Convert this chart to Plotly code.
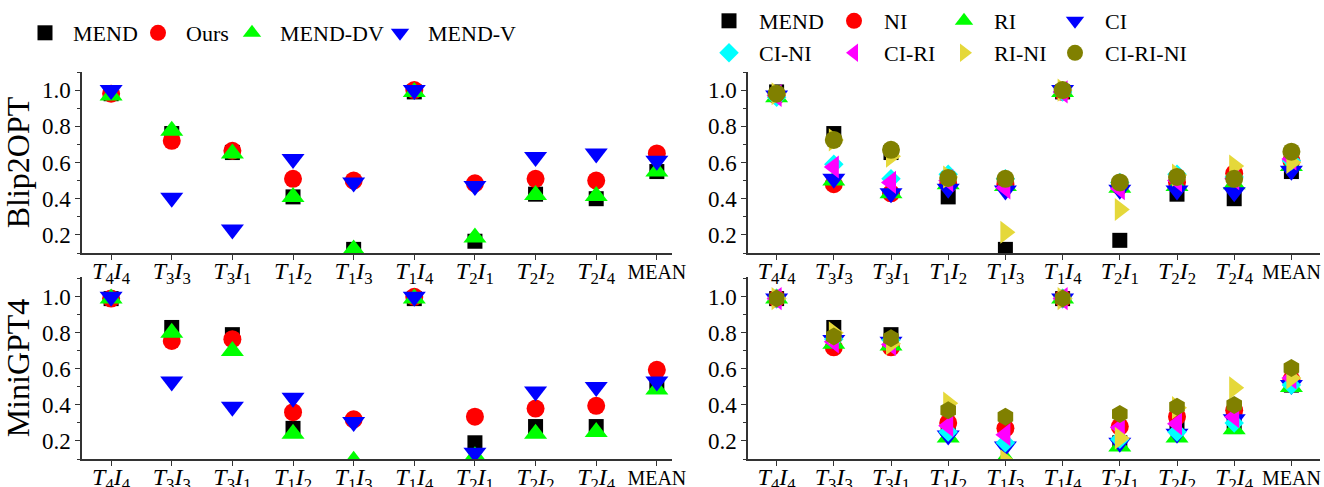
import plotly.graph_objects as go

W, H = 1324, 487
FONT = "Liberation Serif"

def lab(t, i):
    return f"<i>T</i><sub>{t}</sub><i>I</i><sub>{i}</sub>"

categories = ["T4I4", "T3I3", "T3I1", "T1I2", "T1I3", "T1I4", "T2I1", "T2I2", "T2I4", "MEAN"]
tick_labels = [lab(4, 4), lab(3, 3), lab(3, 1), lab(1, 2), lab(1, 3), lab(1, 4),
               lab(2, 1), lab(2, 2), lab(2, 4), "<span style='font-size:20px'>MEAN</span>"]

# ---- Left panels: MEND / Ours / MEND-DV / MEND-V ----
blip_mend   = [0.98, 0.76, 0.655, 0.41, 0.12, 0.99, 0.165, 0.425, 0.40, 0.55]
blip_ours   = [0.98, 0.72, 0.665, 0.51, 0.50, 1.00, 0.485, 0.51, 0.50, 0.65]
blip_dv     = [0.97, 0.775, 0.65, 0.41, 0.12, 0.99, 0.185, 0.42, 0.415, 0.55]
blip_v      = [1.00, 0.405, 0.23, 0.62, 0.49, 1.00, 0.47, 0.63, 0.65, 0.61]

mini_mend   = [0.99, 0.83, 0.79, 0.27, 0.05, 0.99, 0.19, 0.28, 0.28, 0.51]
mini_ours   = [0.99, 0.755, 0.765, 0.36, 0.32, 1.00, 0.335, 0.38, 0.395, 0.595]
mini_dv     = [0.99, 0.80, 0.70, 0.24, 0.09, 0.99, 0.115, 0.24, 0.25, 0.485]
mini_v      = [1.00, 0.53, 0.39, 0.44, 0.305, 1.00, 0.135, 0.475, 0.50, 0.53]

# ---- Right panels: ablations ----
b_mend      = [0.99, 0.76, 0.655, 0.41, 0.12, 0.99, 0.17, 0.425, 0.40, 0.55]
b_ni        = [0.97, 0.48, 0.43, 0.48, 0.48, 0.99, 0.47, 0.49, 0.54, 0.61]
b_ri        = [0.96, 0.50, 0.43, 0.48, 0.47, 0.99, 0.46, 0.47, 0.48, 0.58]
b_ci        = [0.97, 0.51, 0.43, 0.455, 0.445, 1.00, 0.45, 0.445, 0.435, 0.555]
b_cini      = [0.96, 0.59, 0.51, 0.535, 0.51, 0.99, 0.49, 0.535, 0.52, 0.61]
b_ciri      = [0.97, 0.575, 0.49, 0.50, 0.46, 0.99, 0.455, 0.50, 0.51, 0.62]
b_rini      = [0.98, 0.725, 0.635, 0.52, 0.215, 1.00, 0.34, 0.53, 0.58, 0.60]
b_cirini    = [0.98, 0.725, 0.67, 0.515, 0.51, 1.00, 0.49, 0.52, 0.51, 0.66]

m_mend      = [0.99, 0.83, 0.79, 0.27, 0.05, 0.99, 0.19, 0.28, 0.28, 0.51]
m_ni        = [0.99, 0.72, 0.72, 0.30, 0.27, 0.99, 0.28, 0.335, 0.37, 0.54]
m_ri        = [0.99, 0.74, 0.73, 0.22, 0.10, 0.99, 0.17, 0.22, 0.265, 0.50]
m_ci        = [0.99, 0.76, 0.75, 0.23, 0.17, 0.99, 0.19, 0.24, 0.32, 0.51]
m_cini      = [0.99, 0.765, 0.76, 0.25, 0.19, 0.99, 0.21, 0.25, 0.30, 0.51]
m_ciri      = [0.99, 0.75, 0.735, 0.285, 0.235, 0.99, 0.275, 0.295, 0.335, 0.55]
m_rini      = [0.99, 0.80, 0.74, 0.41, 0.09, 0.99, 0.215, 0.385, 0.495, 0.55]
m_cirini    = [0.99, 0.78, 0.77, 0.37, 0.335, 0.99, 0.35, 0.39, 0.40, 0.605]

left_series = [
    ("MEND", "square", "#000000", 15, blip_mend, mini_mend),
    ("Ours", "circle", "#ff0000", 18, blip_ours, mini_ours),
    ("MEND-DV", "triangle-up", "#00ff00", 20, blip_dv, mini_dv),
    ("MEND-V", "triangle-down", "#0000ff", 20, blip_v, mini_v),
]
right_series = [
    ("MEND", "square", "square", "#000000", 15, b_mend, m_mend),
    ("NI", "circle", "circle", "#ff0000", 18, b_ni, m_ni),
    ("RI", "triangle-up", "triangle-up", "#00ff00", 20, b_ri, m_ri),
    ("CI", "triangle-down", "triangle-down", "#0000ff", 20, b_ci, m_ci),
    ("CI-NI", "diamond", "diamond", "#00ffff", 15, b_cini, m_cini),
    ("CI-RI", "triangle-left", "triangle-left", "#ff00ff", 20, b_ciri, m_ciri),
    ("RI-NI", "triangle-right", "triangle-right", "#e5d83a", 20, b_rini, m_rini),
    ("CI-RI-NI", "circle", "hexagon", "#808000", 18, b_cirini, m_cirini),
]

fig = go.Figure()
x = list(range(len(categories)))

# legend placement (pixels)
left_leg_x = [17, 130, 224, 372]
left_leg_y = 33
right_cols = [699, 824, 934, 1045]
right_rows = [21, 53]

legends = {}
k = 1
for idx, (name, sym, col, sz, top, bot) in enumerate(left_series):
    lk = "legend" if k == 1 else f"legend{k}"
    fig.add_trace(go.Scatter(x=x, y=top, mode="markers", name=name,
                             marker=dict(symbol=sym, color=col, size=sz, line=dict(width=0)),
                             xaxis="x", yaxis="y", legend=lk))
    fig.add_trace(go.Scatter(x=x, y=bot, mode="markers", name=name, showlegend=False,
                             marker=dict(symbol=sym, color=col, size=sz, line=dict(width=0)),
                             xaxis="x3", yaxis="y3"))
    legends[lk] = dict(x=left_leg_x[idx] / W, y=1 - left_leg_y / H)
    k += 1

for idx, (name, sym_t, sym_b, col, sz, top, bot) in enumerate(right_series):
    lk = f"legend{k}"
    fig.add_trace(go.Scatter(x=x, y=top, mode="markers", name=name,
                             marker=dict(symbol=sym_t, color=col, size=sz, line=dict(width=0)),
                             xaxis="x2", yaxis="y2", legend=lk))
    fig.add_trace(go.Scatter(x=x, y=bot, mode="markers", name=name, showlegend=False,
                             marker=dict(symbol=sym_b, color=col, size=sz, line=dict(width=0)),
                             xaxis="x4", yaxis="y4"))
    legends[lk] = dict(x=right_cols[idx % 4] / W, y=1 - right_rows[idx // 4] / H)
    k += 1

AXCOL = "#333333"
def xax(domain, rng, anchor):
    return dict(domain=domain, range=rng, anchor=anchor, tickmode="array", tickvals=x,
                ticktext=tick_labels, showline=True, linecolor=AXCOL, linewidth=1.5,
                ticks="outside", ticklen=5, tickcolor=AXCOL, showgrid=False, zeroline=False,
                tickfont=dict(family=FONT, size=24, color="black"), fixedrange=True,
                automargin=False, ticklabelstandoff=-10)

def yax(domain, rng, anchor, title):
    d = dict(domain=domain, range=rng, anchor=anchor, tickmode="linear", tick0=0.2, dtick=0.2,
             tickformat=".1f", showline=True, linecolor=AXCOL, linewidth=1.5,
             ticks="outside", ticklen=5, tickcolor=AXCOL, showgrid=False, zeroline=False,
             minor=dict(tick0=0.1, dtick=0.2, ticks="outside", ticklen=3, tickcolor=AXCOL),
             tickfont=dict(family=FONT, size=23, color="black"), fixedrange=True,
             automargin=False)
    if title:
        d["title"] = dict(text=title, font=dict(family=FONT, size=32, color="black"), standoff=10)
    return d

LX = [82 / W, 672 / W]
RX = [748 / W, 1320 / W]
TY = [1 - 253 / H, 1 - 72 / H]
BY = [1 - 459 / H, 1 - 277 / H]

layout = dict(
    width=W, height=H, margin=dict(l=0, r=0, t=0, b=0, autoexpand=False),
    plot_bgcolor="white", paper_bgcolor="white",
    xaxis=xax(LX, [-0.48, 9.25], "y"),
    yaxis=yax(TY, [0.1, 1.1], "x", "Blip2OPT"),
    xaxis2=xax(RX, [-0.5, 9.5], "y2"),
    yaxis2=yax(TY, [0.1, 1.1], "x2", None),
    xaxis3=xax(LX, [-0.48, 9.25], "y3"),
    yaxis3=yax(BY, [0.1, 1.11], "x3", "MiniGPT4"),
    xaxis4=xax(RX, [-0.5, 9.5], "y4"),
    yaxis4=yax(BY, [0.1, 1.11], "x4", None),
    showlegend=True,
)
for lk, pos in legends.items():
    layout[lk] = dict(x=pos["x"], y=pos["y"], xanchor="left", yanchor="middle",
                      orientation="v", bgcolor="rgba(0,0,0,0)", borderwidth=0,
                      itemwidth=46 if lk in ("legend", "legend2", "legend3", "legend4") else 50,
                      font=dict(family=FONT, size=22, color="black"),
                      itemclick=False, itemdoubleclick=False)
fig.update_layout(**layout)

fig.write_html("out.html", config={"displayModeBar": False},
               post_script="document.body.style.margin='0';document.body.style.padding='0';")
